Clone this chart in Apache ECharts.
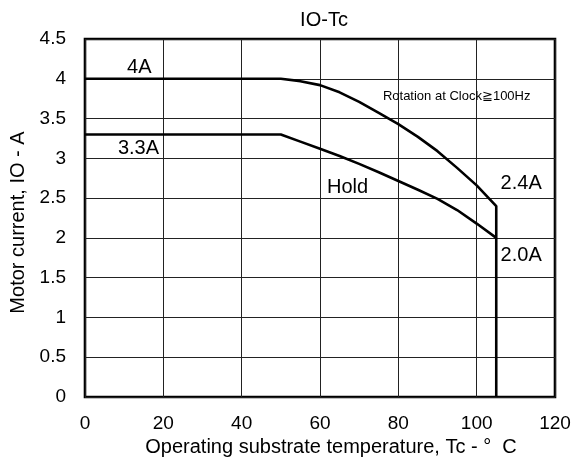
<!DOCTYPE html>
<html>
<head>
<meta charset="utf-8">
<script src="https://cdn.jsdelivr.net/npm/echarts@6/dist/echarts.min.js"></script>
<style>
  html, body { margin: 0; padding: 0; background: #fff; }
  #chart { width: 575px; height: 475px; }
</style>
</head>
<body>
<div id="chart"></div>
<script>
// Derating curves: motor current IO (A) vs. substrate temperature Tc (°C)
const rotationTemp    = [0, 50, 55, 60, 65, 70, 75, 80, 85, 90, 95, 100, 105, 105];
const rotationCurrent = [4.0, 4.0, 3.97, 3.92, 3.83, 3.71, 3.57, 3.43, 3.27, 3.09, 2.88, 2.66, 2.4, 0];
const holdTemp        = [0, 50, 55, 60, 65, 70, 75, 80, 85, 90, 95, 100, 105];
const holdCurrent     = [3.3, 3.3, 3.21, 3.12, 3.03, 2.93, 2.825, 2.715, 2.605, 2.49, 2.35, 2.18, 2.0];

// Text notes placed in data units
const noteText = ['4A', '3.3A', 'Hold', '2.4A', '2.0A', 'Rotation at Clock\u2267100Hz'];
const noteX    = [13.85, 13.65, 67.05, 111.36, 111.36, 94.9];
const noteY    = [4.14, 3.124, 2.638, 2.685, 1.784, 3.784];
const noteSize = [20, 20, 20, 20, 20, 13];

const xTicks = { min: 0, max: 120, step: 20 };
const yTicks = { min: 0, max: 4.5, step: 0.5 };

const FONT = "'Liberation Sans', Arial, Helvetica, sans-serif";

const zip = (xs, ys) => xs.map((x, i) => [x, ys[i]]);

const chart = echarts.init(document.getElementById('chart'), null, { renderer: 'canvas' });

chart.setOption({
  animation: false,
  backgroundColor: '#fff',
  textStyle: { fontFamily: FONT, color: '#000' },
  title: {
    text: 'IO-Tc',
    left: 319,
    top: 5,
    textAlign: 'center',
    textStyle: { fontFamily: FONT, fontSize: 20, fontWeight: 'normal', color: '#000' }
  },
  grid: {
    left: 83, right: 20, top: 39, bottom: 78,
    show: true, borderColor: '#000', borderWidth: 2.6, backgroundColor: 'transparent',
    containLabel: false
  },
  xAxis: {
    type: 'value',
    min: xTicks.min, max: xTicks.max, interval: xTicks.step,
    name: 'Operating substrate temperature, Tc - \u00b0  C',
    nameLocation: 'middle',
    nameGap: 38,
    nameTextStyle: { fontFamily: FONT, fontSize: 20, color: '#000', padding: [0, 0, 0, 22] },
    axisLine: { show: false },
    axisTick: { show: false },
    axisLabel: { fontFamily: FONT, fontSize: 19, color: '#000', margin: 17 },
    splitLine: { show: true, lineStyle: { color: '#222', width: 1 } }
  },
  yAxis: {
    type: 'value',
    min: yTicks.min, max: yTicks.max, interval: yTicks.step,
    name: 'Motor current, IO - A',
    nameLocation: 'middle',
    nameGap: 57,
    nameRotate: 90,
    nameTextStyle: { fontFamily: FONT, fontSize: 20, color: '#000', padding: [0, 9, 0, 0] },
    axisLine: { show: false },
    axisTick: { show: false },
    axisLabel: { fontFamily: FONT, fontSize: 19, color: '#000', margin: 19 },
    splitLine: { show: true, lineStyle: { color: '#222', width: 1 } }
  },
  series: [
    {
      name: 'Rotation',
      type: 'line',
      data: zip(rotationTemp, rotationCurrent),
      showSymbol: false,
      smooth: false,
      lineStyle: { color: '#000', width: 2.6 },
      z: 5
    },
    {
      name: 'Hold',
      type: 'line',
      data: zip(holdTemp, holdCurrent),
      showSymbol: false,
      smooth: false,
      lineStyle: { color: '#000', width: 2.6 },
      z: 5
    },
    {
      name: 'Notes',
      type: 'scatter',
      symbolSize: 0,
      silent: true,
      itemStyle: { opacity: 1, color: '#000' },
      data: noteText.map((t, i) => ({
        value: [noteX[i], noteY[i]],
        name: t,
        label: { fontSize: noteSize[i], color: '#000' }
      })),
      label: {
        show: true,
        position: 'inside',
        formatter: p => p.name,
        fontFamily: FONT,
        color: '#000'
      },
      z: 6
    }
  ]
});
</script>
</body>
</html>
